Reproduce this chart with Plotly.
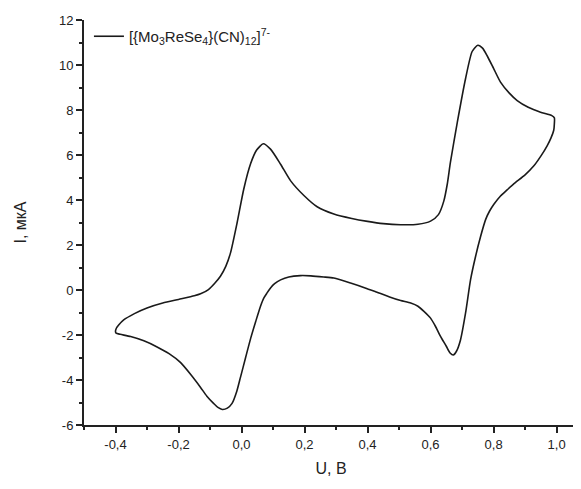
import plotly.graph_objects as go

# Forward (anodic) sweep: potential U (V) and current I (uA)
u_forward = [-0.400, -0.398, -0.390, -0.374, -0.340, -0.300, -0.250, -0.200, -0.150, -0.130, -0.105,
             -0.085, -0.067, -0.050, -0.035, -0.014, 0.007, 0.029, 0.048, 0.069, 0.092,
             0.124, 0.156, 0.198, 0.240, 0.293, 0.350, 0.400, 0.450, 0.505,
             0.560, 0.600, 0.625, 0.642, 0.653, 0.663, 0.685, 0.711, 0.732, 0.750,
             0.765, 0.780, 0.800, 0.822, 0.850, 0.875, 0.910, 0.949, 0.985, 0.993]
i_forward = [-1.85, -1.72, -1.56, -1.33, -1.05, -0.80, -0.58, -0.42, -0.26, -0.17, 0.02,
             0.30, 0.61, 1.05, 1.65, 2.99, 4.48, 5.62, 6.22, 6.50, 6.26,
             5.59, 4.85, 4.20, 3.70, 3.38, 3.18, 3.05, 2.95, 2.90,
             2.92, 3.06, 3.35, 3.95, 4.70, 5.67, 7.46, 9.39, 10.60, 10.88,
             10.75, 10.40, 9.85, 9.24, 8.75, 8.42, 8.12, 7.90, 7.75, 7.65]

# Reverse (cathodic) sweep
u_reverse = [0.993, 0.991, 0.982, 0.970, 0.950, 0.928, 0.900, 0.864, 0.843, 0.822,
             0.801, 0.787, 0.775, 0.759, 0.743, 0.727, 0.711, 0.695, 0.683, 0.672,
             0.662, 0.650, 0.632, 0.615, 0.600, 0.579, 0.560, 0.537,
             0.505, 0.470, 0.430, 0.399, 0.346, 0.293, 0.261, 0.220, 0.187, 0.150,
             0.124, 0.105, 0.092, 0.080, 0.071, 0.060, 0.045, 0.029, 0.013, -0.003,
             -0.015, -0.030, -0.045, -0.061, -0.075, -0.088, -0.110, -0.130, -0.160, -0.194,
             -0.230, -0.268, -0.310, -0.352, -0.385, -0.398, -0.400]
i_reverse = [7.40, 7.10, 6.75, 6.41, 5.95, 5.52, 5.12, 4.72, 4.45, 4.18,
             3.81, 3.50, 3.14, 2.39, 1.50, 0.46, -1.03, -2.22, -2.70, -2.89,
             -2.80, -2.50, -2.07, -1.60, -1.25, -0.95, -0.72, -0.58,
             -0.47, -0.31, -0.10, 0.06, 0.31, 0.53, 0.58, 0.63, 0.64, 0.58,
             0.45, 0.28, 0.09, -0.15, -0.35, -0.73, -1.40, -2.15, -3.00, -3.86,
             -4.50, -5.04, -5.25, -5.31, -5.22, -5.05, -4.72, -4.33, -3.78, -3.22,
             -2.83, -2.53, -2.26, -2.07, -1.97, -1.92, -1.85]

x_tick_vals = [-0.4, -0.2, 0.0, 0.2, 0.4, 0.6, 0.8, 1.0]
x_tick_text = ["-0,4", "-0,2", "0,0", "0,2", "0,4", "0,6", "0,8", "1,0"]
y_tick_vals = [-6, -4, -2, 0, 2, 4, 6, 8, 10, 12]
y_tick_text = ["-6", "-4", "-2", "0", "2", "4", "6", "8", "10", "12"]

series_name = "[{Mo<sub>3</sub>ReSe<sub>4</sub>}(CN)<sub>12</sub>]<sup>7-</sup>"

fig = go.Figure()
fig.add_trace(go.Scatter(
    x=u_forward + u_reverse,
    y=i_forward + i_reverse,
    mode="lines",
    name=series_name,
    line=dict(color="#1a1a1a", width=1.6, shape="spline", smoothing=0.6),
    showlegend=True,
))

font_family = "Liberation Sans, Arial, sans-serif"

# The page body has an 8px default margin, so the figure is sized to fit the window.
fig.update_layout(
    width=573, height=481,
    margin=dict(l=76, r=3, t=12, b=64),
    paper_bgcolor="white", plot_bgcolor="white",
    font=dict(family=font_family, size=13, color="#222"),
    showlegend=True,
    legend=dict(x=0.01, y=1.0, xanchor="left", yanchor="top",
                bgcolor="rgba(0,0,0,0)", font=dict(size=15, color="#222")),
)
fig.update_xaxes(
    range=[-0.5, 1.068],
    tickvals=x_tick_vals, ticktext=x_tick_text,
    showgrid=False, zeroline=False,
    showline=True, linecolor="#222", linewidth=2,
    ticks="outside", ticklen=6, tickwidth=1.5, tickcolor="#222",
    minor=dict(dtick=0.1, tick0=0, ticks="outside", ticklen=3, tickwidth=1.5, tickcolor="#222"),
    title=dict(text="U, В", font=dict(size=16, color="#222"), standoff=12),
)
fig.update_yaxes(
    range=[-6, 12],
    tickvals=y_tick_vals, ticktext=y_tick_text,
    showgrid=False, zeroline=False,
    showline=True, linecolor="#222", linewidth=2,
    ticks="outside", ticklen=6, tickwidth=1.5, tickcolor="#222",
    minor=dict(dtick=1, tick0=0, ticks="outside", ticklen=3, tickwidth=1.5, tickcolor="#222"),
    title=dict(text="I, мкА", font=dict(size=16, color="#222"), standoff=28),
)

fig.write_html("out.html")
